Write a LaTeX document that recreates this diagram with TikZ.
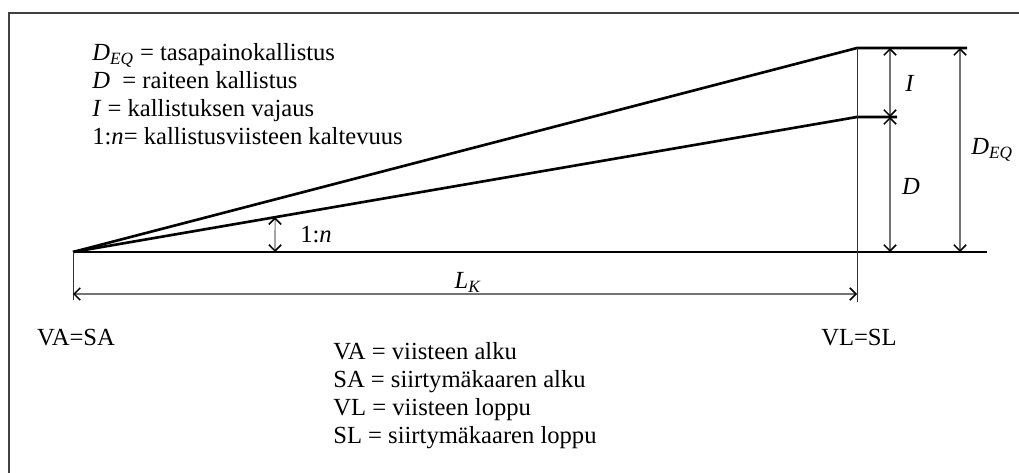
\documentclass[tikz,border=0pt]{standalone}
\usepackage{fontspec}
\setmainfont{Liberation Serif}
\usetikzlibrary{arrows.meta,calc}

\newcommand{\deq}{\textit{D}\textsubscript{\textit{EQ}}}
\newcommand{\lk}{\textit{L}\textsubscript{\textit{K}}}

\begin{document}
\begin{tikzpicture}[
    x=0.02cm, y=-0.02cm,
    txt/.style={inner sep=0pt, font=\fontsize{14}{16}\selectfont},
    slopeline/.style={line width=1.5pt, black},
    thinline/.style={line width=0.5pt, black!80},
    dim/.style={{Straight Barb[length=3.5pt,width=7pt,line width=0.9pt,black]}-{Straight Barb[length=3.5pt,width=7pt,line width=0.9pt,black]}, line width=0.6pt, black!55}
]
\useasboundingbox (0,0) rectangle (1019,473);
\draw[line width=1.2pt, black!75] (9,473) -- (9,13) -- (1019,13);

\coordinate (apex) at (73,252);
\coordinate (baseend) at (987,252);
\coordinate (topkink) at (857,48);
\coordinate (topend) at (967,48);
\coordinate (midkink) at (857,117);
\coordinate (midend) at (897,117);
\coordinate (vfoot) at (857,302);
\coordinate (afoot) at (73,300);
\coordinate (lkleft) at (73,294);
\coordinate (lkright) at (857,294);
\coordinate (itop) at (890,48);
\coordinate (imid) at (890,117);
\coordinate (ibot) at (890,252);
\coordinate (eqtop) at (960,48);
\coordinate (eqbot) at (960,252);
\coordinate (slopebot) at (275,252);
\coordinate (slopetop) at ($(apex)!0.2577!(midkink)$);

\draw[slopeline] (apex) -- (baseend);
\draw[slopeline] (apex) -- (topkink) -- (topend);
\draw[slopeline] (apex) -- (midkink) -- (midend);
\draw[thinline] (topkink) -- (vfoot);
\draw[thinline] (apex) -- (afoot);

\draw[dim] (lkleft) -- (lkright);
\draw[dim] (itop) -- (imid);
\draw[dim] (imid) -- (ibot);
\draw[dim] (eqtop) -- (eqbot);
\draw[dim] (slopetop) -- (slopebot);

\node[txt, anchor=north west, align=left] (legend) at (92,43)
  {\deq{} = tasapainokallistus\\
   \textit{D}\ \ = raiteen kallistus\\
   \textit{I} = kallistuksen vajaus\\
   1:\textit{n}= kallistusviisteen kaltevuus};
\node[txt, anchor=north west, align=left] (abbrev) at (333,342)
  {VA = viisteen alku\\
   SA = siirtymäkaaren alku\\
   VL = viisteen loppu\\
   SL = siirtymäkaaren loppu};
\node[txt, anchor=base] (start) at (76,345) {VA=SA};
\node[txt, anchor=base] (end) at (859,345) {VL=SL};
\node[txt, anchor=base west] (ratio) at (300,243) {1:\textit{n}};
\node[txt] (ilabel) at (910,83) {\textit{I}};
\node[txt] (dlabel) at (911,186) {\textit{D}};
\node[txt, anchor=west] (deqlabel) at (971,150) {\deq};
\node[txt, anchor=base] (lklabel) at (468,289) {\lk};
\end{tikzpicture}
\end{document}
